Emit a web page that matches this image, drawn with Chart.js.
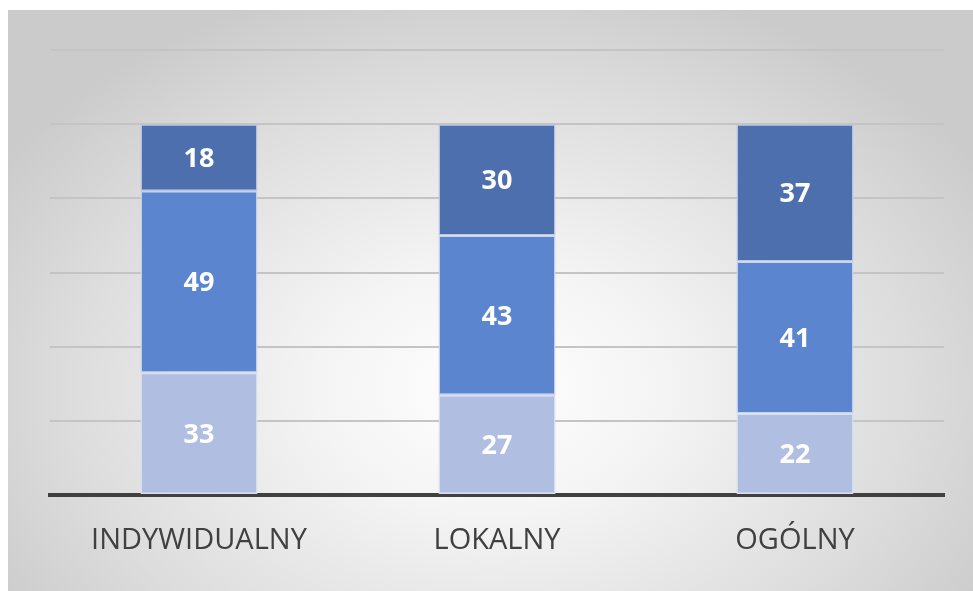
<!DOCTYPE html>
<html>
<head>
<meta charset="utf-8">
<script src="https://cdn.jsdelivr.net/npm/chart.js@4.4.1/dist/chart.umd.min.js"></script>
<style>
  html, body { margin: 0; padding: 0; background: #ffffff; }
  #wrap {
    position: absolute; left: 0; top: 0; width: 973px; height: 591px;
  }
  #bg {
    position: absolute; left: 8px; top: 10px; width: 965px; height: 581px;
    background: radial-gradient(ellipse 60% 72% at 50% 65%, #ffffff 0%, #f4f4f4 30%, #dddddd 72%, #cbcbcb 100%);
  }
  canvas { position: absolute; left: 0; top: 0; }
</style>
</head>
<body>
<div id="wrap">
  <div id="bg"></div>
  <canvas id="chart" width="973" height="591"></canvas>
</div>
<script>
// dane wykresu
const categories = ['INDYWIDUALNY', 'LOKALNY', 'OGÓLNY'];
const seriesLow = [33, 27, 22];
const seriesMid = [49, 43, 41];
const seriesTop = [18, 30, 37];
const yTicks = [0, 20, 40, 60, 80, 100, 120];

// etykiety wartości w środku segmentów
const valueLabels = {
    id: 'valueLabels',
    afterDatasetsDraw(chart) {
        const ctx = chart.ctx;
        ctx.save();
        ctx.fillStyle = '#ffffff';
        ctx.font = 'bold 27px "Open Sans"';
        ctx.textAlign = 'center';
        ctx.textBaseline = 'middle';
        chart.data.datasets.forEach((ds, i) => {
            chart.getDatasetMeta(i).data.forEach((bar, j) => {
                const mid = (bar.y + bar.base) / 2;
                ctx.fillText(String(ds.data[j]), bar.x, mid + 2);
            });
        });
        ctx.restore();
    }
};

new Chart(document.getElementById('chart'), {
    type: 'bar',
    data: {
        labels: categories,
        datasets: [
            { data: seriesLow, backgroundColor: '#b0bee1', borderColor: '#d7def0', borderWidth: 1.5, borderSkipped: false },
            { data: seriesMid, backgroundColor: '#5b86cf', borderColor: '#c5d3ee', borderWidth: 1.5, borderSkipped: false },
            { data: seriesTop, backgroundColor: '#4d6fae', borderColor: '#b9c6e2', borderWidth: 1.5, borderSkipped: false }
        ]
    },
    options: {
        responsive: false,
        animation: false,
        layout: { padding: { left: 50, right: 29, top: 50, bottom: 0 } },
        plugins: { legend: { display: false }, tooltip: { enabled: false } },
        datasets: { bar: { categoryPercentage: 1, barPercentage: 0.393 } },
        scales: {
            x: {
                stacked: true,
                afterFit: (axis) => { axis.height = 96; },
                grid: { display: false, drawTicks: false },
                border: { display: true, color: '#404040', width: 4 },
                ticks: { color: '#404040', font: { family: '"Open Sans"', size: 29 }, padding: 28 }
            },
            y: {
                stacked: true,
                min: 0, max: 120,
                afterBuildTicks: (axis) => { axis.ticks = yTicks.map(v => ({ value: v })); },
                ticks: { display: false },
                grid: { color: '#c4c4c4', lineWidth: 2, drawTicks: false },
                border: { display: false }
            }
        }
    },
    plugins: [valueLabels]
});
</script>
</body>
</html>
